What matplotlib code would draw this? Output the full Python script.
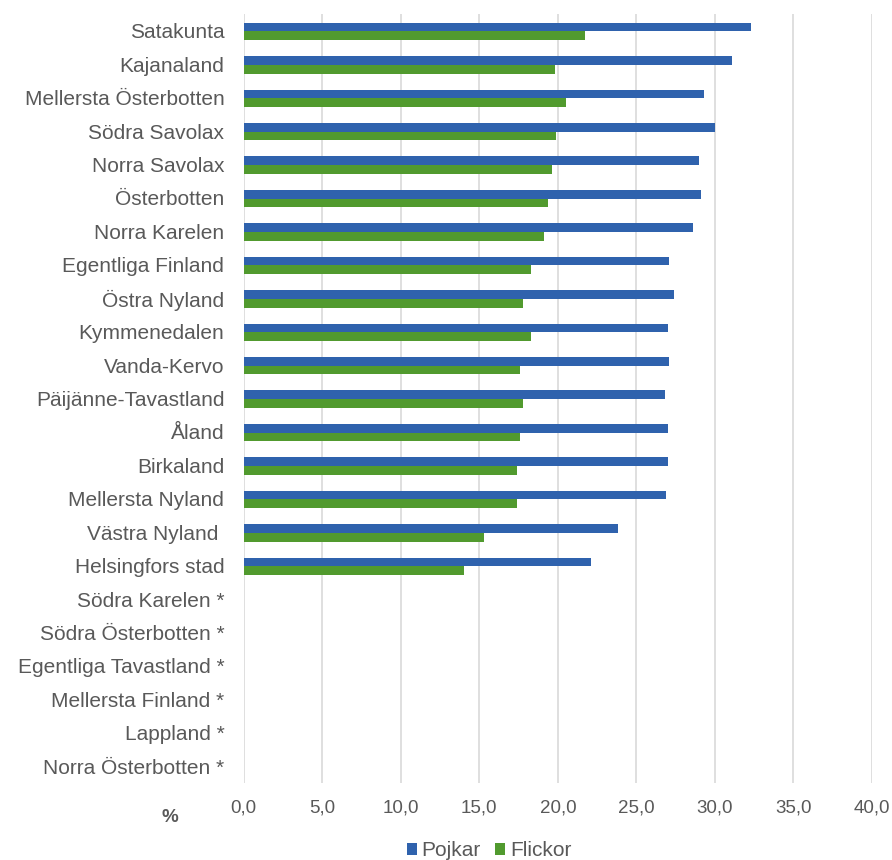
import numpy as np
import matplotlib.pyplot as plt

plt.rcParams['font.family'] = ['Liberation Sans', 'DejaVu Sans']

regions = [
    "Satakunta", "Kajanaland", "Mellersta Österbotten", "Södra Savolax",
    "Norra Savolax", "Österbotten", "Norra Karelen", "Egentliga Finland",
    "Östra Nyland", "Kymmenedalen", "Vanda-Kervo", "Päijänne-Tavastland",
    "Åland", "Birkaland", "Mellersta Nyland", "Västra Nyland ",
    "Helsingfors stad", "Södra Karelen *", "Södra Österbotten *",
    "Egentliga Tavastland *", "Mellersta Finland *", "Lappland *",
    "Norra Österbotten *",
]
nan = np.nan
pojkar = [32.3, 31.1, 29.3, 30.0, 29.0, 29.1, 28.6, 27.1, 27.4, 27.0, 27.1,
          26.8, 27.0, 27.0, 26.9, 23.8, 22.1, nan, nan, nan, nan, nan, nan]
flickor = [21.7, 19.8, 20.5, 19.9, 19.6, 19.4, 19.1, 18.3, 17.8, 18.3, 17.6,
           17.8, 17.6, 17.4, 17.4, 15.3, 14.0, nan, nan, nan, nan, nan, nan]
xticks = [0, 5, 10, 15, 20, 25, 30, 35, 40]

blue = '#2f62ad'
green = '#519a2e'
grey = '#595959'

fig = plt.figure(figsize=(8.92, 8.6), dpi=100)
ax = fig.add_axes([243.8 / 892, 1 - 783 / 860, (871.9 - 243.8) / 892, (783 - 14) / 860])

y = np.arange(len(regions))
h = 0.26
ax.barh(y - h / 2 + 0.02, pojkar, height=h, color=blue, label='Pojkar', zorder=3)
ax.barh(y + h / 2 + 0.02, flickor, height=h, color=green, label='Flickor', zorder=3)

ax.set_ylim(len(regions) - 0.5, -0.5)
ax.set_xlim(0, 40)
ax.set_yticks(y)
ax.set_yticklabels(regions, fontsize=15, color=grey)
ax.set_xticks(xticks)
ax.set_xticklabels([f"{t:.1f}".replace('.', ',') for t in xticks], fontsize=13.5, color=grey)
ax.tick_params(axis='y', length=0, pad=14)
ax.tick_params(axis='x', length=0, pad=12)
ax.grid(axis='x', color='#d9d9d9', lw=1.2, zorder=0)
for s in ax.spines.values():
    s.set_visible(False)

fig.text(170 / 892, 1 - 818 / 860, '%', fontsize=13.5, fontweight='bold', color=grey,
         ha='center', va='center')

fig.legend(loc='center', bbox_to_anchor=(489 / 892, 1 - 851 / 860), ncol=2, frameon=False,
           fontsize=15, handlelength=0.48, handleheight=0.48, handletextpad=0.24,
           columnspacing=0.67, labelcolor=grey, borderpad=0)

fig.savefig('out.png', dpi=100)
